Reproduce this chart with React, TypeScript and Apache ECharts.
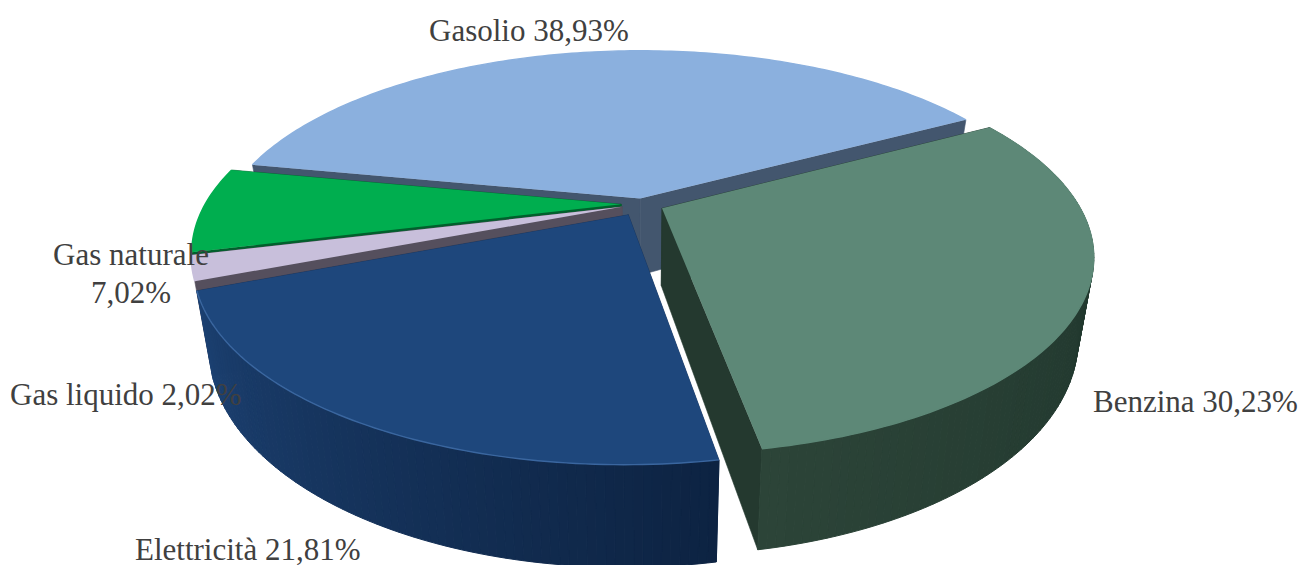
import React, { useEffect, useRef } from "react";
import * as echarts from "echarts";

const categories = ["Benzina", "Elettricità", "Gas liquido", "Gas naturale", "Gasolio"];
const values = [30.23, 21.81, 2.02, 7.02, 38.93];
const topColors = ["#5d8877", "#1e477c", "#c8bfdb", "#00ae4f", "#8bb0de"];
const cutColors = ["#24392f", "#16325a", "#554f5d", "#00602c", "#43566e"];
const wallLeft = [[44, 68, 56], [28, 65, 114], null, null, null] as (number[] | null)[];
const wallRight = [[25, 47, 39], [13, 35, 66], null, null, null] as (number[] | null)[];
const rimColors = ["#5d8877", "#3a669f", "#c8bfdb", "#00ae4f", "#8bb0de"];
const explode = [0.053, 0.066, 0.05, 0.05, 0.03];
const paintOrder = [4, 3, 2, 1, 0];

const START_ANGLE = 80.1;
const CX = 642, CY = 204, RX = 416, RY = 185, K = 0.236, DEPTH = 77, BOTTOM_SCALE = 0.965;

const total = values.reduce((a, b) => a + b, 0);
const starts: number[] = [];
{
  // Angles run clockwise on screen; Benzina ends where Elettricità starts.
  let acc = START_ANGLE - (values[0] / total) * 360;
  for (const v of values) { starts.push(acc); acc += (v / total) * 360; }
}

function project(u: number, v: number, bottom: boolean): number[] {
  const s = 1 / (1 - K * v);
  const x = RX * u * s;
  const y = RY * v * s;
  if (!bottom) return [CX + x, CY + y];
  return [CX + x * BOTTOM_SCALE, CY + y + DEPTH * s];
}

function planePoint(i: number, theta: number | null): number[] {
  const a0 = starts[i];
  const mid = ((a0 + (values[i] / total) * 180) * Math.PI) / 180;
  const ou = explode[i] * Math.cos(mid);
  const ov = explode[i] * Math.sin(mid);
  if (theta === null) return [ou, ov];
  const t = (theta * Math.PI) / 180;
  return [ou + Math.cos(t), ov + Math.sin(t)];
}

function rim(i: number, bottom: boolean): number[][] {
  const a0 = starts[i];
  const sweep = (values[i] / total) * 360;
  const n = Math.max(6, Math.round(sweep));
  const out: number[][] = [];
  for (let j = 0; j <= n; j++) {
    const p = planePoint(i, a0 + (sweep * j) / n);
    out.push(project(p[0], p[1], bottom));
  }
  return out;
}

function mix(a: number[], b: number[], t: number): string {
  const c = a.map((x, k) => Math.round(x + (b[k] - x) * t));
  return `rgb(${c[0]},${c[1]},${c[2]})`;
}

function renderSlice(_params: any, api: any) {
  const i = paintOrder[api.value(0)];
  const top = rim(i, false);
  const bot = rim(i, true);
  const c = planePoint(i, null);
  const apexT = project(c[0], c[1], false);
  const apexB = project(c[0], c[1], true);
  const last = top.length - 1;
  const children: any[] = [];
  const poly = (points: number[][], fill: any, z2: number, stroke?: string, lw = 0.6) => ({
    type: "polygon",
    z2,
    shape: { points },
    style: { fill, stroke: stroke ?? "none", lineWidth: lw },
    silent: true,
  });
  children.push(poly([apexT, top[0], bot[0], apexB], cutColors[i], 1, cutColors[i]));
  children.push(poly([apexT, top[last], bot[last], apexB], cutColors[i], 1, cutColors[i]));
  const L = wallLeft[i];
  const Rt = wallRight[i];
  if (L && Rt) {
    // Only the slices that face the viewer show an outer wall, built of narrow facets.
    for (let j = 0; j < last; j++) {
      const t = (j + 0.5) / last;
      const col = mix(Rt, L, t);
      children.push(poly([top[j], top[j + 1], bot[j + 1], bot[j]], col, 2, col, 1));
    }
  }
  children.push(poly([apexT].concat(top), topColors[i], 3));
  children.push({
    type: "polyline",
    z2: 4,
    shape: { points: top },
    style: { fill: "none", stroke: rimColors[i], lineWidth: 1.4 },
    silent: true,
  });
  return { type: "group", children };
}

const pct = (v: number) => v.toFixed(2).replace(".", ",") + "%";
const FONT = '31px "Liberation Serif"';
const labelLines = categories.map((c, i) =>
  i === 3 ? [c, pct(values[i])] : [`${c} ${pct(values[i])}`]
);
const labelAnchors = [
  { x: 1093, y: 401, align: "left" },
  { x: 135, y: 549, align: "left" },
  { x: 10, y: 394, align: "left" },
  { x: 131, y: 254, align: "center" },
  { x: 429, y: 30, align: "left" },
];

export default function App() {
  const ref = useRef<HTMLDivElement>(null);
  useEffect(() => {
    document.body.style.margin = "0";
    const chart = echarts.init(ref.current!, undefined, { renderer: "svg" });
    const graphics: any[] = [];
    labelLines.forEach((lines, i) => {
      lines.forEach((line, j) => {
        graphics.push({
          type: "text",
          z: 100,
          x: labelAnchors[i].x,
          y: labelAnchors[i].y + j * 38,
          style: {
            text: line,
            font: FONT,
            fill: "#404040",
            align: labelAnchors[i].align,
            verticalAlign: "middle",
          },
        });
      });
    });
    chart.setOption({
      animation: false,
      backgroundColor: "#ffffff",
      series: [
        {
          type: "custom",
          coordinateSystem: "none",
          renderItem: renderSlice,
          data: paintOrder.map((_, k) => [k]),
          encode: { x: 0 },
          silent: true,
          clip: false,
        },
      ],
      graphic: graphics,
    });
    return () => chart.dispose();
  }, []);
  return <div ref={ref} style={{ position: "absolute", left: 0, top: 0, width: 1301, height: 565 }} />;
}
